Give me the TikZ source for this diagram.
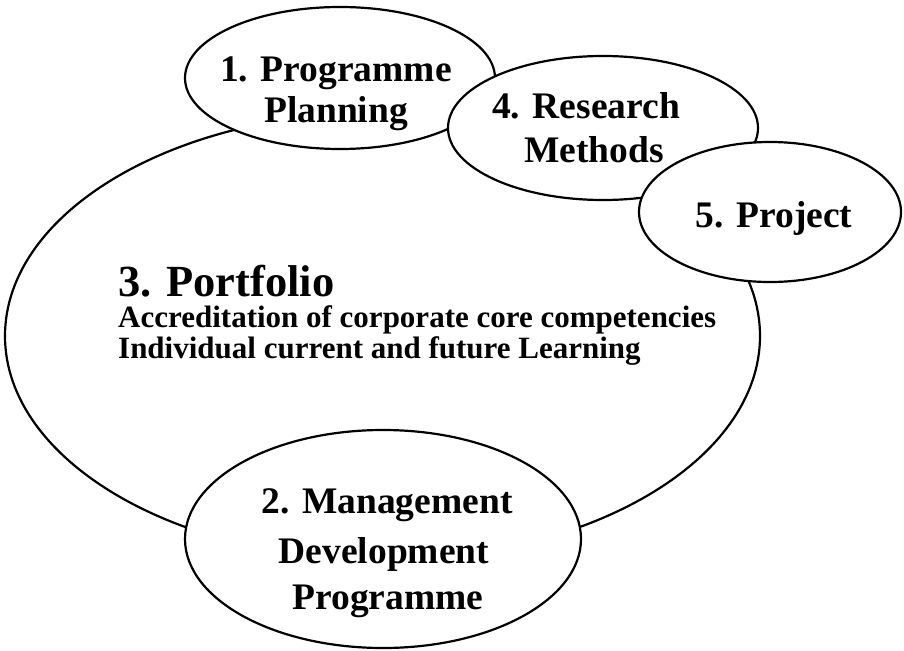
\documentclass[tikz,border=0pt]{standalone}
\usepackage{fontspec}
\setmainfont{Liberation Serif}
\usetikzlibrary{shapes.geometric}
\begin{document}
\begin{tikzpicture}[x=1pt,y=-1pt,
  ell/.style={ellipse, draw, line width=2.2pt, fill=white, inner sep=0pt},
  lbl/.style={font=\fontsize{37.5}{43}\selectfont\bfseries, inner sep=0pt, anchor=base},
  big/.style={font=\fontsize{44.5}{50}\selectfont\bfseries, inner sep=0pt, anchor=base west},
  sub/.style={font=\fontsize{31}{34}\selectfont\bfseries, inner sep=0pt, anchor=base west}]
\useasboundingbox (0,0) rectangle (904,650);
\node[ell, minimum width=755pt, minimum height=448pt] (portfolio) at (382.5,336) {};
\node[ell, minimum width=310pt, minimum height=142pt] (plan) at (340,78) {};
\node[ell, minimum width=310pt, minimum height=144pt] (research) at (603,128) {};
\node[ell, minimum width=262pt, minimum height=140pt] (project) at (770,212) {};
\node[ell, minimum width=396pt, minimum height=218pt] (mdp) at (383,539) {};
% labels
\node[lbl] (plan1) at (336,82) {1. Programme};
\node[lbl] (plan2) at (336,123) {Planning};
\node[lbl] (res1) at (586,118) {4. Research};
\node[lbl] (res2) at (594,162) {Methods};
\node[lbl] (proj1) at (774,227) {5. Project};
\node[lbl] (mdp1) at (387,513) {2. Management};
\node[lbl] (mdp2) at (384,563) {Development};
\node[lbl] (mdp3) at (388,609) {Programme};
\node[big] (port1) at (118,296) {3. Portfolio};
\node[sub] (port2) at (118,327) {Accreditation of corporate core competencies};
\node[sub] (port3) at (118,358) {Individual current and future Learning};
\end{tikzpicture}
\end{document}
